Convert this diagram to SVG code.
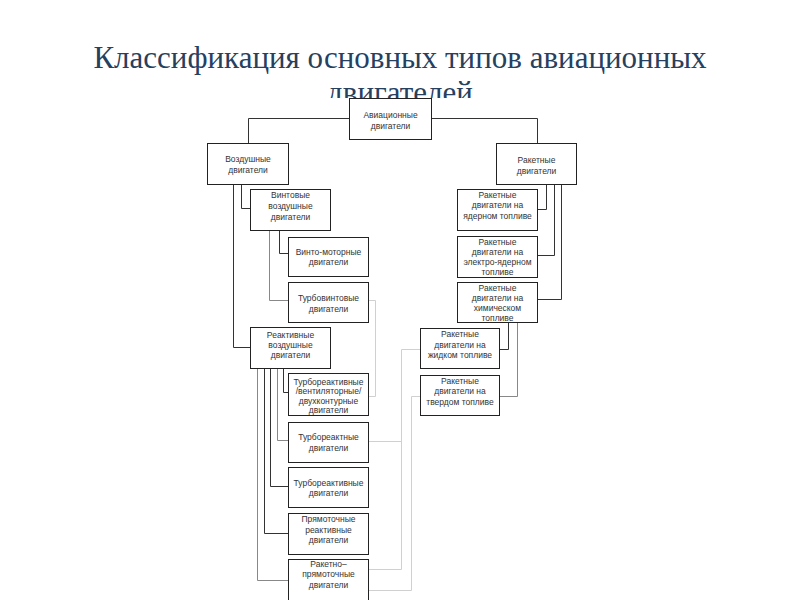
<svg xmlns="http://www.w3.org/2000/svg" width="800" height="600" viewBox="0 0 800 600">
<style>
.title{font-family:"Liberation Serif","Times New Roman",serif;font-size:31px;fill:#26405f;text-anchor:middle}
.box{fill:#fff;stroke:#222;stroke-width:1}
.lbl{font-family:"Liberation Sans",Arial,sans-serif;font-size:8.5px;fill:#333;text-anchor:middle}
.c{fill:none;stroke:#333;stroke-width:1}
.g{fill:none;stroke:#888;stroke-width:1}
.f{fill:none;stroke:#d0d0d0;stroke-width:1}
</style>
<rect x="0" y="0" width="800" height="600" fill="#fff"/>
<text class="title" x="400" y="68">Классификация основных типов авиационных</text>
<text class="title" x="400" y="103">двигателей</text>
<rect x="192" y="98" width="416" height="502" fill="#fff"/>
<g id="connectors">
<path class="c" d="M349.5,118.5 H248.5 V143"/>
<path class="c" d="M431,118.5 H537.5 V143"/>
<path class="c" d="M241.5,184 V208.5 H250"/>
<path class="c" d="M233.5,184 V347.5 H250"/>
<path class="c" d="M279.5,230 V253.5 H288"/>
<path class="g" d="M269.5,230 V300.5 H288"/>
<path class="c" d="M283.5,368 V392.5 H288"/>
<path class="g" d="M277.5,368 V440.5 H288"/>
<path class="c" d="M270.5,368 V486.5 H288"/>
<path class="c" d="M264.5,368 V533.5 H288"/>
<path class="g" d="M257.5,368 V580.5 H288"/>
<path class="c" d="M546.5,184 V209.5 H537"/>
<path class="c" d="M554.5,184 V255.5 H537"/>
<path class="c" d="M561.5,184 V299.5 H537"/>
<path class="c" d="M508.5,322 V349.5 H499"/>
<path class="g" d="M517.5,322 V396.5 H499"/>
<path class="f" d="M368,300.5 H375.5 V396.5 H368"/>
<path class="f" d="M420,349.5 H401.5 V569.5 H368"/>
<path class="f" d="M368,441.5 H401.5"/>
<path class="f" d="M420,396.5 H411.5 V590.5 H368"/>
</g>
<g id="n-avia"><rect class="box" x="349.5" y="98.5" width="82" height="41"/><text class="lbl" x="390.5" y="118">Авиационные</text><text class="lbl" x="390.5" y="128.5">двигатели</text></g>
<g id="n-vozd"><rect class="box" x="207.5" y="143.5" width="81" height="41"/><text class="lbl" x="248" y="162">Воздушные</text><text class="lbl" x="248" y="173">двигатели</text></g>
<g id="n-raket"><rect class="box" x="496.5" y="143.5" width="80" height="41"/><text class="lbl" x="536.5" y="163">Ракетные</text><text class="lbl" x="536.5" y="174">двигатели</text></g>
<g id="n-vint"><rect class="box" x="250.5" y="189.5" width="80" height="41"/><text class="lbl" x="290.5" y="198">Винтовые</text><text class="lbl" x="290.5" y="209">воздушные</text><text class="lbl" x="290.5" y="219.5">двигатели</text></g>
<g id="n-vintomot"><rect class="box" x="288.5" y="237.5" width="80" height="39"/><text class="lbl" x="328.5" y="255">Винто-моторные</text><text class="lbl" x="328.5" y="265">двигатели</text></g>
<g id="n-turbovint"><rect class="box" x="288.5" y="282.5" width="80" height="40"/><text class="lbl" x="328.5" y="301">Турбовинтовые</text><text class="lbl" x="328.5" y="312">двигатели</text></g>
<g id="n-reakt"><rect class="box" x="250.5" y="327.5" width="80" height="41"/><text class="lbl" x="290.5" y="338">Реактивные</text><text class="lbl" x="290.5" y="348">воздушные</text><text class="lbl" x="290.5" y="358">двигатели</text></g>
<g id="n-trdd"><rect class="box" x="288.5" y="373.5" width="80" height="42"/><text class="lbl" x="328.5" y="385">Турбореактивные</text><text class="lbl" x="328.5" y="394">/вентиляторные/</text><text class="lbl" x="328.5" y="404">двухконтурные</text><text class="lbl" x="328.5" y="413">двигатели</text></g>
<g id="n-turboreaktnye"><rect class="box" x="288.5" y="422.5" width="80" height="40"/><text class="lbl" x="328.5" y="440">Турбореактные</text><text class="lbl" x="328.5" y="450.5">двигатели</text></g>
<g id="n-turboreaktivnye"><rect class="box" x="288.5" y="467.5" width="80" height="40"/><text class="lbl" x="328.5" y="486">Турбореактивные</text><text class="lbl" x="328.5" y="496">двигатели</text></g>
<g id="n-pryam"><rect class="box" x="288.5" y="513.5" width="80" height="41"/><text class="lbl" x="328.5" y="521.5">Прямоточные</text><text class="lbl" x="328.5" y="532.5">реактивные</text><text class="lbl" x="328.5" y="543">двигатели</text></g>
<g id="n-raketnopryam"><rect class="box" x="288.5" y="559.5" width="80" height="45"/><text class="lbl" x="328.5" y="567">Ракетно–</text><text class="lbl" x="328.5" y="577">прямоточные</text><text class="lbl" x="328.5" y="588">двигатели</text></g>
<g id="n-yader"><rect class="box" x="457.5" y="189.5" width="80" height="41"/><text class="lbl" x="497.5" y="198">Ракетные</text><text class="lbl" x="497.5" y="208">двигатели на</text><text class="lbl" x="497.5" y="218.5">ядерном топливе</text></g>
<g id="n-elektro"><rect class="box" x="457.5" y="236.5" width="80" height="41"/><text class="lbl" x="497.5" y="245">Ракетные</text><text class="lbl" x="497.5" y="255">двигатели на</text><text class="lbl" x="497.5" y="265">электро-ядерном</text><text class="lbl" x="497.5" y="275">топливе</text></g>
<g id="n-khim"><rect class="box" x="457.5" y="282.5" width="80" height="40"/><text class="lbl" x="497.5" y="291">Ракетные</text><text class="lbl" x="497.5" y="301">двигатели на</text><text class="lbl" x="497.5" y="311">химическом</text><text class="lbl" x="497.5" y="321">топливе</text></g>
<g id="n-zhidk"><rect class="box" x="420.5" y="328.5" width="79" height="40"/><text class="lbl" x="460" y="337">Ракетные</text><text class="lbl" x="460" y="348">двигатели на</text><text class="lbl" x="460" y="358">жидком топливе</text></g>
<g id="n-tverd"><rect class="box" x="420.5" y="375.5" width="79" height="40"/><text class="lbl" x="460" y="384">Ракетные</text><text class="lbl" x="460" y="394">двигатели на</text><text class="lbl" x="460" y="405">твердом топливе</text></g>
</svg>
